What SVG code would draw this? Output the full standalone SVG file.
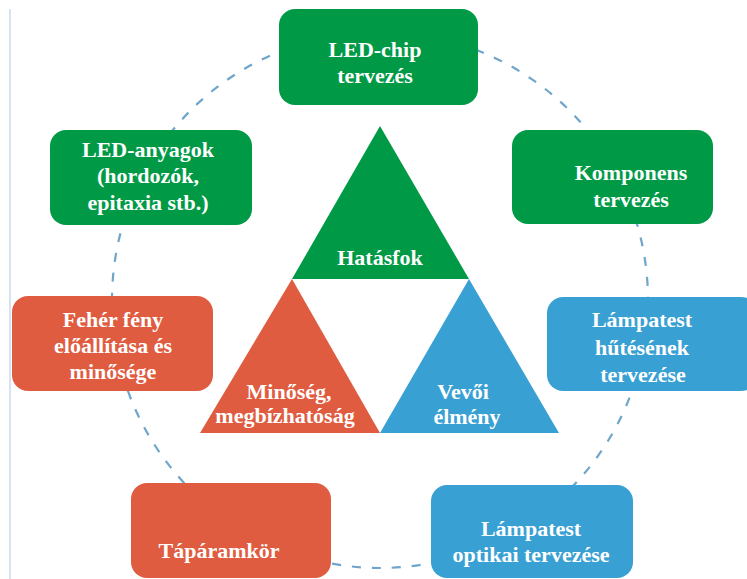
<svg xmlns="http://www.w3.org/2000/svg" width="747" height="579" viewBox="0 0 747 579">
<style>
.t{font-family:"Liberation Serif","Times New Roman",serif;font-weight:bold;font-size:22px;fill:#ffffff;text-anchor:middle}
.g{fill:#009a46}
.r{fill:#e05c40}
.b{fill:#39a0d3}
.ring{fill:none;stroke:#6fa5cb;stroke-width:2.2;stroke-dasharray:9 11}
</style>
<rect width="747" height="579" fill="#ffffff"/>
<line x1="10" y1="9" x2="10" y2="579" stroke="#d8e3f1" stroke-width="2"/>
<g id="connectors">
<ellipse class="ring" cx="380" cy="300" rx="268" ry="268"/>
</g>
<g id="tri-hatasfok">
<polygon class="g" points="380,126 292,279 469,279"/>
<text class="t" x="380" y="265">Hatásfok</text>
</g>
<g id="tri-minoseg">
<polygon class="r" points="292,279 200,433 380,433"/>
<text class="t" x="289" y="399">Minőség,</text>
<text class="t" x="285" y="423">megbízhatóság</text>
</g>
<g id="tri-vevoi">
<polygon class="b" points="469,279 380,433 559,433"/>
<text class="t" x="463" y="399">Vevői</text>
<text class="t" x="467" y="424">élmény</text>
</g>
<g id="led-chip">
<rect class="g" x="279" y="9" width="199" height="96" rx="16"/>
<text class="t" x="375" y="57">LED-chip</text>
<text class="t" x="375" y="83">tervezés</text>
</g>
<g id="led-anyagok">
<rect class="g" x="50" y="130" width="202" height="95" rx="16"/>
<text class="t" x="148" y="157">LED-anyagok</text>
<text class="t" x="148" y="183">(hordozók,</text>
<text class="t" x="148" y="210">epitaxia stb.)</text>
</g>
<g id="komponens">
<rect class="g" x="512" y="130" width="201" height="94" rx="16"/>
<text class="t" x="631" y="180">Komponens</text>
<text class="t" x="631" y="207">tervezés</text>
</g>
<g id="feher-feny">
<rect class="r" x="12" y="296" width="201" height="95" rx="16"/>
<text class="t" x="113" y="327">Fehér fény</text>
<text class="t" x="113" y="353">előállítása és</text>
<text class="t" x="113" y="379">minősége</text>
</g>
<g id="lampatest-hutes">
<rect class="b" x="547" y="297" width="210" height="94" rx="16"/>
<text class="t" x="642" y="327">Lámpatest</text>
<text class="t" x="642" y="355">hűtésének</text>
<text class="t" x="643" y="382">tervezése</text>
</g>
<g id="tapaaramkor">
<rect class="r" x="131" y="483" width="200" height="95" rx="16"/>
<text class="t" x="219" y="558">Tápáramkör</text>
</g>
<g id="lampatest-optikai">
<rect class="b" x="431" y="485" width="202" height="93" rx="16"/>
<text class="t" x="531" y="536">Lámpatest</text>
<text class="t" x="531" y="562">optikai tervezése</text>
</g>
</svg>
